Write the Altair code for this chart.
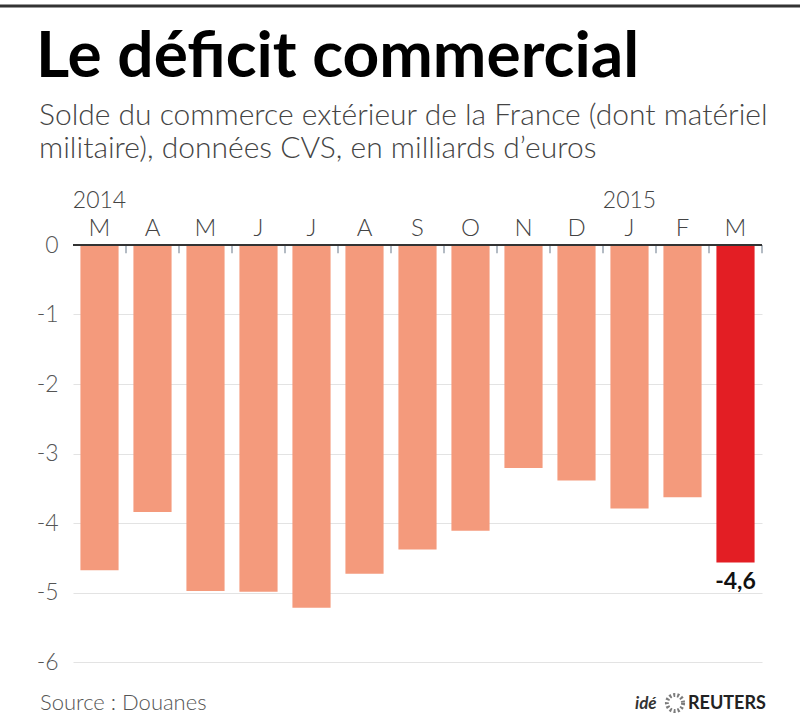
import json
import altair as alt
import pandas as pd

# ---- data ----
months = ["M", "A", "M", "J", "J", "A", "S", "O", "N", "D", "J", "F", "M"]
years = ["2014", "", "", "", "", "", "", "", "", "", "2015", "", ""]
values = [-4.68, -3.84, -4.98, -4.99, -5.22, -4.73, -4.38, -4.11, -3.21, -3.39, -3.79, -3.63, -4.57]
y_ticks = [-6, -5, -4, -3, -2, -1, 0]

title = "Le déficit commercial"
subtitle = ["Solde du commerce extérieur de la France (dont matériel",
            "militaire), données CVS, en milliards d’euros"]
source = "Source : Douanes"

df = pd.DataFrame({"idx": list(range(len(months))), "month": months,
                   "year": years, "v": values})
last_idx = len(months) - 1

W, H = 689, 417
FONT = "Lato"
P_IN = 0.28
P_OUT = P_IN / 2
STEP = W / (len(months) - P_IN + 2 * P_OUT)

x_enc = alt.X("idx:O", scale=alt.Scale(paddingInner=P_IN, paddingOuter=P_OUT),
              axis=alt.Axis(orient="top", title=None, labelAngle=0,
                            labelExpr=json.dumps(months) + "[datum.value]",
                            labelFontSize=24, labelColor="#444", labelFont=FONT,
                            labelFontWeight=300,
                            ticks=False, domain=False, labelPadding=10,
                            labelBaseline="alphabetic"))
y_scale = alt.Scale(domain=[-6, 0], nice=False, zero=False)

bars = alt.Chart(df).mark_bar().encode(
    x=x_enc,
    y=alt.Y("v:Q", scale=y_scale,
            axis=alt.Axis(title=None, values=y_ticks, labelExpr="datum.value + ''",
                          labelFontSize=23, labelColor="#555", labelFont=FONT,
                          labelFontWeight=300, labelPadding=15,
                          ticks=False, domain=False, grid=True,
                          gridColor="#e3e3e3", gridWidth=1)),
    y2=alt.datum(0),
    color=alt.condition(alt.datum.idx == last_idx, alt.value("#e31e24"), alt.value("#f49a7c")),
)

# separator ticks in the middle of each gap (after each bar)
ticks = alt.Chart(df).mark_rule(color="#9aa5b0", strokeWidth=1.5,
                                xOffset=STEP * P_IN / 2).encode(
    x=alt.X("idx:O", bandPosition=1),
    y=alt.datum(0), y2=alt.datum(-0.12),
)

zero = alt.Chart(df).mark_rule(color="#333", strokeWidth=2).encode(
    y=alt.datum(0), x=alt.value(0), x2=alt.value(W)
).transform_filter(alt.datum.idx == 0)

year_txt = alt.Chart(df).transform_filter(alt.datum.year != "").mark_text(
    fontSize=23, font=FONT, fontWeight=300, color="#444", baseline="alphabetic"
).encode(x="idx:O", y=alt.value(-37), text="year:N")

val_txt = alt.Chart(df).transform_filter(alt.datum.idx == last_idx).transform_calculate(
    lab="replace(replace(format(datum.v, '.1f'), '.', ','), '\u2212', '-')"
).mark_text(fontSize=23, font=FONT, fontWeight="bold", color="#111",
            baseline="alphabetic", dy=26).encode(x="idx:O", y="v:Q", text="lab:N")


def label(text, x, y, size, weight="normal", color="#333", align="left", style="normal"):
    return alt.Chart(pd.DataFrame({"t": [text]})).mark_text(
        fontSize=size, font=FONT, fontWeight=weight, color=color, align=align,
        baseline="alphabetic", fontStyle=style
    ).encode(text="t:N", x=alt.value(x), y=alt.value(y))


top_line = alt.Chart(pd.DataFrame({"a": [0]})).mark_rule(color="#333", strokeWidth=3).encode(
    x=alt.value(-73), x2=alt.value(727), y=alt.value(-239))

t_title = label(title, -37, -168, 64, weight="bold", color="#000")
t_sub1 = label(subtitle[0], -34, -120, 30, weight=300, color="#444")
t_sub2 = label(subtitle[1], -34, -87, 30, weight=300, color="#444")
t_src = label(source, -33, 465, 22, weight=300, color="#555")
t_ide = label("idé", 562, 464, 17, weight="bold", color="#333", style="italic")
t_reu = label("REUTERS", 615, 464, 18, weight="bold", color="#222")
logo = alt.Chart(pd.DataFrame({"a": [0]})).mark_point(
    shape="circle", size=260, stroke="#444", strokeWidth=4, strokeDash=[2, 2], filled=False
).encode(x=alt.value(602), y=alt.value(458))

chart = alt.layer(
    bars, ticks, zero, year_txt, val_txt, top_line,
    t_title, t_sub1, t_sub2, t_src, t_ide, t_reu, logo
).properties(
    width=W, height=H,
    autosize=alt.AutoSizeParams(type="none"),
    padding={"left": 73, "top": 245, "right": 38, "bottom": 61},
    background="white",
).configure_view(stroke=None)

chart.save("out.html", embed_options={"renderer": "svg", "actions": False})
